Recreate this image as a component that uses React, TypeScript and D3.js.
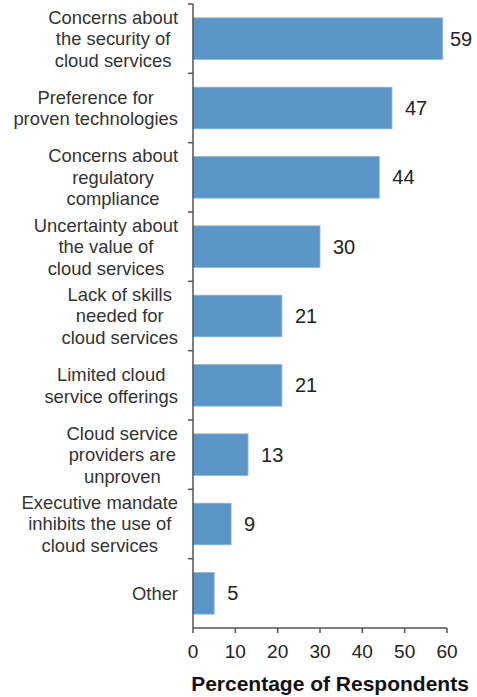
import React, { useEffect, useRef } from "react";
import * as d3 from "d3";

const categories: string[][] = [
  ["Concerns about", "the security of", "cloud services"],
  ["Preference for", "proven technologies"],
  ["Concerns about", "regulatory", "compliance"],
  ["Uncertainty about", "the value of", "cloud services"],
  ["Lack of skills", "needed for", "cloud services"],
  ["Limited cloud", "service offerings"],
  ["Cloud service", "providers are", "unproven"],
  ["Executive mandate", "inhibits the use of", "cloud services"],
  ["Other"],
];
const values: number[] = [59, 47, 44, 30, 21, 21, 13, 9, 5];
const xTicks: number[] = [0, 10, 20, 30, 40, 50, 60];
const xTitle = "Percentage of Respondents";

const W = 477;
const H = 697;
const FONT = "'Liberation Sans', Arial, sans-serif";

export default function App() {
  const ref = useRef<SVGSVGElement | null>(null);

  useEffect(() => {
    const svg = d3.select(ref.current);
    svg.selectAll("*").remove();
    const ids = categories.map((_, i) => String(i));
    const y = d3.scaleBand<string>().domain(ids).range([4, 628]).paddingInner(0.4).paddingOuter(0.2);
    const x = d3.scaleLinear().domain([0, 60]).range([193, 447]);

    // bars
    svg
      .append("g")
      .selectAll("rect")
      .data(values)
      .join("rect")
      .attr("x", x(0))
      .attr("y", (_, i) => y(ids[i])!)
      .attr("width", (d) => x(d) - x(0))
      .attr("height", y.bandwidth())
      .attr("fill", "#5b95c8")
      .attr("stroke", "#8cb6dd")
      .attr("stroke-width", 0.8);

    // value labels
    svg
      .append("g")
      .selectAll("text")
      .data(values)
      .join("text")
      .attr("x", (d) => Math.min(x(d) + 13, 450))
      .attr("y", (_, i) => y(ids[i])! + y.bandwidth() / 2)
      .attr("dy", "0.35em")
      .attr("font-family", FONT)
      .attr("font-size", 20)
      .attr("fill", "#222")
      .text((d) => String(d));

    // y axis line and boundary ticks
    const step = y.step();
    const y0 = y.range()[0];
    const axis = svg.append("g").attr("stroke", "#555").attr("stroke-width", 1.5);
    axis.append("line").attr("x1", x(0)).attr("x2", x(0)).attr("y1", y0).attr("y2", 628);
    axis.append("line").attr("x1", x(0)).attr("x2", 447).attr("y1", 628).attr("y2", 628);
    d3.range(categories.length).forEach((i) => {
      axis
        .append("line")
        .attr("x1", x(0) - 5)
        .attr("x2", x(0))
        .attr("y1", y0 + i * step)
        .attr("y2", y0 + i * step);
    });
    xTicks.forEach((t) => {
      axis.append("line").attr("x1", x(t)).attr("x2", x(t)).attr("y1", 628).attr("y2", 633);
    });

    // x tick labels
    svg
      .append("g")
      .selectAll("text")
      .data(xTicks)
      .join("text")
      .attr("x", (d) => x(d))
      .attr("y", 658)
      .attr("text-anchor", "middle")
      .attr("font-family", FONT)
      .attr("font-size", 19)
      .attr("fill", "#222")
      .text((d) => String(d));

    // x title
    svg
      .append("text")
      .attr("x", 330)
      .attr("y", 691)
      .attr("text-anchor", "middle")
      .attr("font-family", FONT)
      .attr("font-size", 21)
      .attr("font-weight", "bold")
      .attr("fill", "#111")
      .text(xTitle);

    // category labels: lines centered, block right-aligned
    const lh = 21.5;
    categories.forEach((lines, i) => {
      const cy = y(ids[i])! + y.bandwidth() / 2;
      const g = svg.append("g");
      const texts = lines.map((ln, j) =>
        g
          .append("text")
          .attr("y", cy + (j - (lines.length - 1) / 2) * lh)
          .attr("dy", "0.35em")
          .attr("text-anchor", "middle")
          .attr("font-family", FONT)
          .attr("font-size", 18.4)
          .attr("fill", "#333")
          .text(ln)
      );
      const maxW = d3.max(texts, (t) => (t.node() as SVGTextElement).getComputedTextLength()) || 0;
      const cx = 178 - maxW / 2;
      texts.forEach((t) => t.attr("x", cx));
    });
  }, []);

  return (
    <svg
      ref={ref}
      width={W}
      height={H}
      style={{ position: "absolute", left: 0, top: 0, background: "#fff" }}
    />
  );
}
